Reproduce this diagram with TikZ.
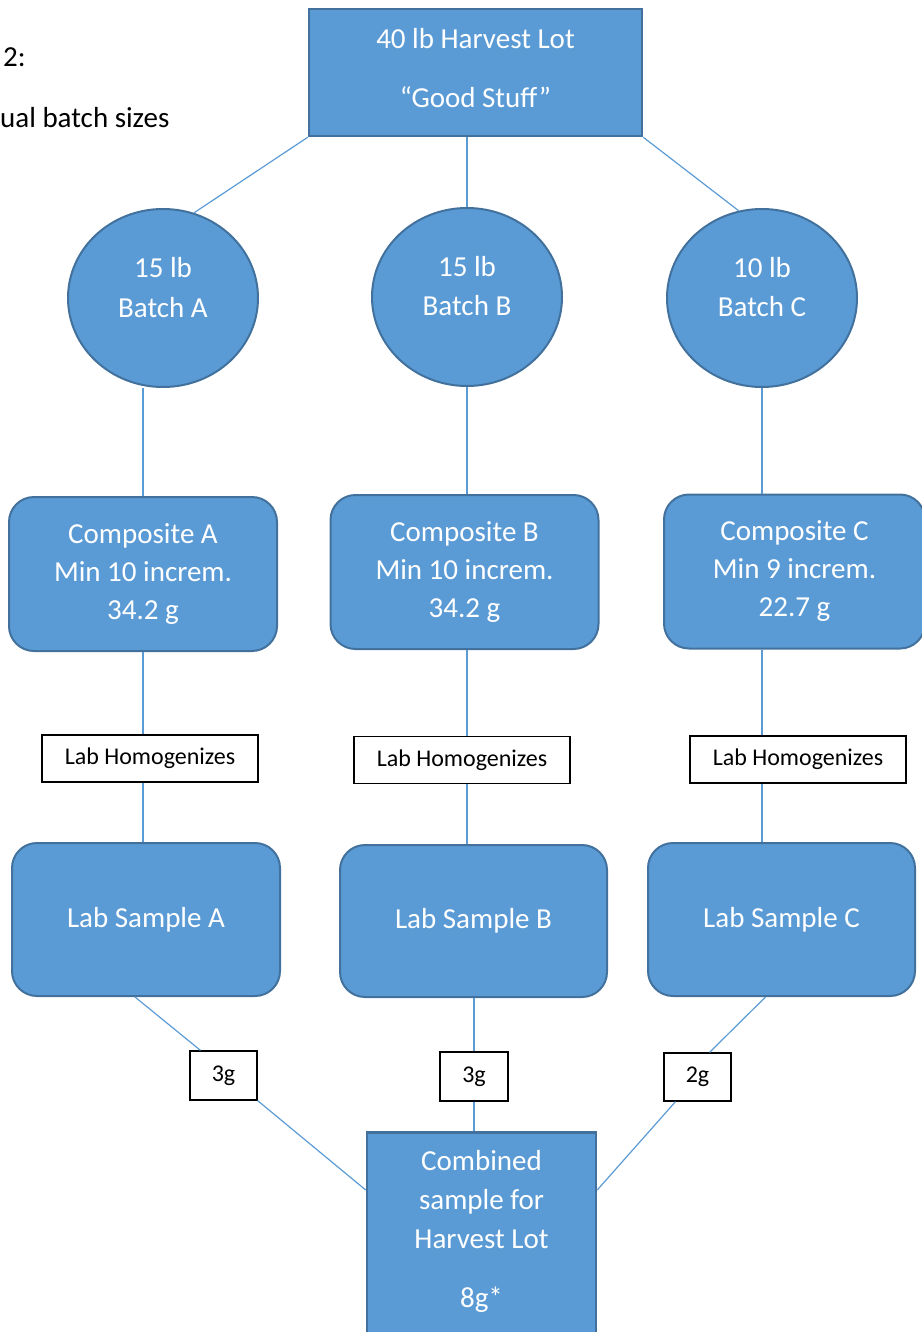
\documentclass[tikz,border=0pt]{standalone}
\usepackage{fontspec}
\setmainfont{Carlito}
\usepackage{tikz}
\usepackage{xcolor}
\usetikzlibrary{shapes.geometric}
\usetikzlibrary{positioning}
\usetikzlibrary{calc}
\definecolor{fillblue}{HTML}{5B9BD5}
\definecolor{edgeblue}{HTML}{41719C}
\newcommand{\bigtxt}{\fontsize{29}{38}\selectfont}
\newcommand{\smalltxt}{\fontsize{24}{29}\selectfont}

\begin{document}
\begin{tikzpicture}[
x=1pt, y=-1pt,
lot/.style = {
  rectangle,
  draw=edgeblue, line width=2.5pt,
  fill=fillblue, text=white,
  align=center, font=\bigtxt,
  inner sep=0pt},
batch/.style = {
  ellipse,
  draw=edgeblue, line width=2pt,
  fill=fillblue, text=white,
  align=center, font=\bigtxt,
  minimum width=190pt, minimum height=178pt,
  text depth=22pt, inner sep=0pt},
compo/.style = {
  rectangle, rounded corners=25pt,
  draw=edgeblue, line width=2pt,
  fill=fillblue, text=white,
  align=center, font=\bigtxt,
  minimum width=268pt, minimum height=154pt,
  inner sep=0pt},
tag/.style = {
  rectangle,
  draw=black, line width=1.2pt,
  fill=white, font=\smalltxt,
  inner sep=0pt},
line/.style = {draw=fillblue, line width=1.2pt},
]
\useasboundingbox (0,0) rectangle (921,1332);

\node[anchor=base west, inner sep=0pt, font=\bigtxt] (fignum) at (3,67) {2:};
\node[anchor=base west, inner sep=0pt, font=\bigtxt] (figcap) at (0,128) {ual batch sizes};

\node[lot, minimum width=333pt, minimum height=127pt, text depth=10pt] (lot) at (475.5,72.5)
  {40 lb Harvest Lot\\[21pt]“Good Stuff”};

\node[batch] (batchA) at (163,298) {15 lb\\[2pt]Batch A};
\node[batch] (batchB) at (467,297) {15 lb\\[1pt]Batch B};
\node[batch] (batchC) at (762,298) {10 lb\\[1pt]Batch C};

\node[compo] (compA) at (143,574) {Composite A\\Min 10 increm.\\34.2 g};
\node[compo] (compB) at (464.5,572) {Composite B\\Min 10 increm.\\34.2 g};
\node[compo, minimum width=261pt] (compC) at (794.5,571.5) {Composite C\\Min 9 increm.\\22.7 g};

\node[tag, minimum width=216pt, minimum height=47pt] (homA) at (150,758.5) {Lab Homogenizes};
\node[tag, minimum width=216pt, minimum height=47pt] (homB) at (462,760) {Lab Homogenizes};
\node[tag, minimum width=216pt, minimum height=47pt] (homC) at (798,759.5) {Lab Homogenizes};

\node[compo, minimum height=153pt] (sampleA) at (146,919.5) {Lab Sample A};
\node[compo, minimum width=267pt, minimum height=152pt] (sampleB) at (473.5,921) {Lab Sample B};
\node[compo, minimum width=267pt, minimum height=153pt] (sampleC) at (781.5,919.5) {Lab Sample C};

\node[tag, minimum width=67pt, minimum height=49pt] (wA) at (223.5,1075.5) {3g};
\node[tag, minimum width=68pt, minimum height=49pt] (wB) at (474,1076.5) {3g};
\node[tag, minimum width=67pt, minimum height=48pt] (wC) at (697.5,1077) {2g};

\node[lot, anchor=north, minimum width=229pt, inner ysep=18.5pt, text depth=40pt,
  font=\fontsize{29}{39}\selectfont] (comb) at (481.5,1131)
  {Combined\\sample for\\Harvest Lot\\[20pt]8g*};

 \begin{scope}[every path/.style=line]
\path (lot.south west) -- (batchA.70);
\path (batchB.north |- lot.south) -- (batchB.north);
\path (lot.south east) -- (batchC.105);
\path (batchA.south -| compA.north) -- (compA.north);
\path (batchB.south) -- (batchB.south |- compB.north);
\path (batchC.south) -- (batchC.south |- compC.north);
\path (compA.south) -- (compA.south |- homA.north);
\path (batchB.south |- compB.south) -- (batchB.south |- homB.north);
\path (batchC.south |- compC.south) -- (batchC.south |- homC.north);
\path (compA.south |- homA.south) -- (compA.south |- sampleA.north);
\path (batchB.south |- homB.south) -- (batchB.south |- sampleB.north);
\path (batchC.south |- homC.south) -- (batchC.south |- sampleC.north);
\path ([xshift=-11pt]sampleA.south) -- ([xshift=-23pt]wA.north);
\path (wA.south east) -- ([yshift=-59pt]comb.north west);
\path (wB.north) -- (wB.north |- sampleB.south);
\path (wB.south) -- (wB.south |- comb.north);
\path ([xshift=-16pt]sampleC.south) -- ([xshift=12pt]wC.north);
\path ([xshift=-22pt]wC.south) -- ([yshift=-59pt]comb.north east);
\end{scope}

\end{tikzpicture}
\end{document}
